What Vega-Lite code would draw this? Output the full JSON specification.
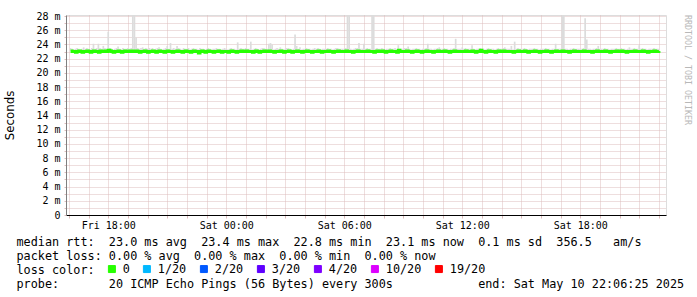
{
"$schema": "https://vega.github.io/schema/vega-lite/v6.json",
"width": 600,
"height": 200,
"autosize": {"type": "none"},
"padding": {"left": 66, "top": 15, "right": 31, "bottom": 82},
"title": {"text": "RRDTOOL / TOBI OETIKER", "orient": "right", "anchor": "start", "angle": 90, "font": "DejaVu Sans Mono", "fontSize": 8.3, "fontWeight": "normal", "color": "#b8b8b8", "offset": 0, "frame": "group"},
"data": {"values": [
{"t":"2025-05-09T16:05","m":23.1,"h":23.5},{"t":"2025-05-09T16:10","m":23.0,"h":23.4},{"t":"2025-05-09T16:15","m":23.0,"h":23.3},{"t":"2025-05-09T16:20","m":22.9,"h":23.4},{"t":"2025-05-09T16:25","m":23.0,"h":23.5},{"t":"2025-05-09T16:30","m":23.1,"h":23.4},{"t":"2025-05-09T16:35","m":23.0,"h":23.3},{"t":"2025-05-09T16:40","m":22.9,"h":23.4},{"t":"2025-05-09T16:45","m":23.0,"h":23.6},{"t":"2025-05-09T16:50","m":23.0,"h":23.4},{"t":"2025-05-09T16:55","m":23.1,"h":23.5},
{"t":"2025-05-09T17:00","m":23.0,"h":23.4},{"t":"2025-05-09T17:05","m":22.9,"h":23.3},{"t":"2025-05-09T17:10","m":23.0,"h":23.5},{"t":"2025-05-09T17:15","m":23.1,"h":24.1},{"t":"2025-05-09T17:20","m":23.0,"h":23.4},{"t":"2025-05-09T17:25","m":23.0,"h":23.5},{"t":"2025-05-09T17:30","m":22.9,"h":24.1},{"t":"2025-05-09T17:35","m":23.1,"h":23.5},{"t":"2025-05-09T17:40","m":23.0,"h":23.4},{"t":"2025-05-09T17:45","m":23.0,"h":23.8},{"t":"2025-05-09T17:50","m":23.1,"h":23.5},{"t":"2025-05-09T17:55","m":23.0,"h":23.4},
{"t":"2025-05-09T18:00","m":23.2,"h":25.8},{"t":"2025-05-09T18:05","m":23.1,"h":23.5},{"t":"2025-05-09T18:10","m":23.0,"h":23.4},{"t":"2025-05-09T18:15","m":22.9,"h":23.3},{"t":"2025-05-09T18:20","m":23.0,"h":23.4},{"t":"2025-05-09T18:25","m":23.0,"h":23.5},{"t":"2025-05-09T18:30","m":23.1,"h":23.7},{"t":"2025-05-09T18:35","m":23.0,"h":23.4},{"t":"2025-05-09T18:40","m":22.9,"h":23.3},{"t":"2025-05-09T18:45","m":23.0,"h":23.5},{"t":"2025-05-09T18:50","m":23.1,"h":23.4},{"t":"2025-05-09T18:55","m":23.0,"h":23.4},
{"t":"2025-05-09T19:00","m":23.0,"h":23.5},{"t":"2025-05-09T19:05","m":23.1,"h":23.4},{"t":"2025-05-09T19:10","m":23.0,"h":23.5},{"t":"2025-05-09T19:15","m":23.1,"h":28.6},{"t":"2025-05-09T19:20","m":23.0,"h":28.6},{"t":"2025-05-09T19:25","m":23.1,"h":25.0},{"t":"2025-05-09T19:30","m":23.0,"h":23.5},{"t":"2025-05-09T19:35","m":22.9,"h":23.4},{"t":"2025-05-09T19:40","m":23.0,"h":23.5},{"t":"2025-05-09T19:45","m":23.0,"h":23.6},{"t":"2025-05-09T19:50","m":23.1,"h":23.4},{"t":"2025-05-09T19:55","m":23.0,"h":23.5},
{"t":"2025-05-09T20:00","m":22.9,"h":23.4},{"t":"2025-05-09T20:05","m":23.0,"h":23.5},{"t":"2025-05-09T20:10","m":23.0,"h":23.4},{"t":"2025-05-09T20:15","m":23.1,"h":23.5},{"t":"2025-05-09T20:20","m":23.0,"h":23.3},{"t":"2025-05-09T20:25","m":22.9,"h":23.4},{"t":"2025-05-09T20:30","m":23.0,"h":23.5},{"t":"2025-05-09T20:35","m":23.1,"h":23.6},{"t":"2025-05-09T20:40","m":23.0,"h":23.4},{"t":"2025-05-09T20:45","m":23.0,"h":23.3},{"t":"2025-05-09T20:50","m":22.9,"h":23.4},{"t":"2025-05-09T20:55","m":23.0,"h":23.5},
{"t":"2025-05-09T21:00","m":23.1,"h":23.8},{"t":"2025-05-09T21:05","m":23.0,"h":23.4},{"t":"2025-05-09T21:10","m":23.0,"h":24.2},{"t":"2025-05-09T21:15","m":22.9,"h":23.4},{"t":"2025-05-09T21:20","m":23.0,"h":23.5},{"t":"2025-05-09T21:25","m":23.0,"h":23.4},{"t":"2025-05-09T21:30","m":23.1,"h":23.8},{"t":"2025-05-09T21:35","m":23.0,"h":23.5},{"t":"2025-05-09T21:40","m":23.0,"h":23.4},{"t":"2025-05-09T21:45","m":22.9,"h":23.3},{"t":"2025-05-09T21:50","m":23.0,"h":23.5},{"t":"2025-05-09T21:55","m":23.1,"h":23.4},
{"t":"2025-05-09T22:00","m":23.0,"h":23.4},{"t":"2025-05-09T22:05","m":23.0,"h":23.5},{"t":"2025-05-09T22:10","m":22.9,"h":23.3},{"t":"2025-05-09T22:15","m":23.0,"h":23.4},{"t":"2025-05-09T22:20","m":23.1,"h":23.5},{"t":"2025-05-09T22:25","m":23.0,"h":23.4},{"t":"2025-05-09T22:30","m":23.0,"h":23.4},{"t":"2025-05-09T22:35","m":22.8,"h":23.3},{"t":"2025-05-09T22:40","m":23.0,"h":23.5},{"t":"2025-05-09T22:45","m":23.1,"h":23.4},{"t":"2025-05-09T22:50","m":23.0,"h":23.4},{"t":"2025-05-09T22:55","m":22.9,"h":23.3},
{"t":"2025-05-09T23:00","m":23.0,"h":23.4},{"t":"2025-05-09T23:05","m":23.1,"h":23.5},{"t":"2025-05-09T23:10","m":23.0,"h":23.4},{"t":"2025-05-09T23:15","m":23.0,"h":23.3},{"t":"2025-05-09T23:20","m":22.9,"h":23.4},{"t":"2025-05-09T23:25","m":23.0,"h":23.4},{"t":"2025-05-09T23:30","m":23.0,"h":23.5},{"t":"2025-05-09T23:35","m":23.1,"h":23.4},{"t":"2025-05-09T23:40","m":23.0,"h":23.4},{"t":"2025-05-09T23:45","m":22.9,"h":23.3},{"t":"2025-05-09T23:50","m":23.0,"h":23.4},{"t":"2025-05-09T23:55","m":23.0,"h":23.5},
{"t":"2025-05-10T00:00","m":23.0,"h":23.4},{"t":"2025-05-10T00:05","m":22.9,"h":23.3},{"t":"2025-05-10T00:10","m":23.0,"h":23.4},{"t":"2025-05-10T00:15","m":23.1,"h":23.5},{"t":"2025-05-10T00:20","m":23.0,"h":23.4},{"t":"2025-05-10T00:25","m":23.0,"h":23.4},{"t":"2025-05-10T00:30","m":22.9,"h":23.3},{"t":"2025-05-10T00:35","m":23.0,"h":24.3},{"t":"2025-05-10T00:40","m":23.0,"h":23.4},{"t":"2025-05-10T00:45","m":23.1,"h":23.5},{"t":"2025-05-10T00:50","m":23.0,"h":23.4},{"t":"2025-05-10T00:55","m":23.0,"h":23.4},
{"t":"2025-05-10T01:00","m":23.1,"h":23.5},{"t":"2025-05-10T01:05","m":23.0,"h":23.4},{"t":"2025-05-10T01:10","m":23.0,"h":23.4},{"t":"2025-05-10T01:15","m":23.0,"h":24.4},{"t":"2025-05-10T01:20","m":22.9,"h":23.3},{"t":"2025-05-10T01:25","m":23.0,"h":23.4},{"t":"2025-05-10T01:30","m":23.1,"h":23.5},{"t":"2025-05-10T01:35","m":23.0,"h":23.4},{"t":"2025-05-10T01:40","m":22.9,"h":23.3},{"t":"2025-05-10T01:45","m":23.0,"h":23.4},{"t":"2025-05-10T01:50","m":23.0,"h":23.5},{"t":"2025-05-10T01:55","m":23.1,"h":23.5},
{"t":"2025-05-10T02:00","m":23.0,"h":23.4},{"t":"2025-05-10T02:05","m":23.0,"h":23.4},{"t":"2025-05-10T02:10","m":23.1,"h":24.1},{"t":"2025-05-10T02:15","m":23.0,"h":24.2},{"t":"2025-05-10T02:20","m":23.0,"h":24.0},{"t":"2025-05-10T02:25","m":22.9,"h":23.3},{"t":"2025-05-10T02:30","m":23.0,"h":23.4},{"t":"2025-05-10T02:35","m":23.0,"h":23.5},{"t":"2025-05-10T02:40","m":23.0,"h":23.4},{"t":"2025-05-10T02:45","m":23.1,"h":23.6},{"t":"2025-05-10T02:50","m":23.0,"h":23.4},{"t":"2025-05-10T02:55","m":22.9,"h":23.3},
{"t":"2025-05-10T03:00","m":23.0,"h":23.4},{"t":"2025-05-10T03:05","m":23.0,"h":23.5},{"t":"2025-05-10T03:10","m":23.1,"h":23.5},{"t":"2025-05-10T03:15","m":23.0,"h":23.4},{"t":"2025-05-10T03:20","m":22.9,"h":23.3},{"t":"2025-05-10T03:25","m":23.0,"h":23.4},{"t":"2025-05-10T03:30","m":23.0,"h":25.4},{"t":"2025-05-10T03:35","m":23.1,"h":23.8},{"t":"2025-05-10T03:40","m":23.0,"h":23.4},{"t":"2025-05-10T03:45","m":23.0,"h":23.6},{"t":"2025-05-10T03:50","m":22.9,"h":23.3},{"t":"2025-05-10T03:55","m":23.0,"h":23.4},
{"t":"2025-05-10T04:00","m":23.0,"h":23.4},{"t":"2025-05-10T04:05","m":23.1,"h":23.5},{"t":"2025-05-10T04:10","m":23.0,"h":23.4},{"t":"2025-05-10T04:15","m":23.0,"h":23.4},{"t":"2025-05-10T04:20","m":22.9,"h":23.3},{"t":"2025-05-10T04:25","m":23.0,"h":23.4},{"t":"2025-05-10T04:30","m":23.0,"h":23.5},{"t":"2025-05-10T04:35","m":23.0,"h":23.4},{"t":"2025-05-10T04:40","m":23.1,"h":23.5},{"t":"2025-05-10T04:45","m":23.0,"h":23.4},{"t":"2025-05-10T04:50","m":22.9,"h":23.3},{"t":"2025-05-10T04:55","m":23.0,"h":23.4},
{"t":"2025-05-10T05:00","m":23.0,"h":23.4},{"t":"2025-05-10T05:05","m":23.0,"h":23.4},{"t":"2025-05-10T05:10","m":23.1,"h":23.5},{"t":"2025-05-10T05:15","m":23.0,"h":23.4},{"t":"2025-05-10T05:20","m":23.0,"h":23.4},{"t":"2025-05-10T05:25","m":22.9,"h":23.3},{"t":"2025-05-10T05:30","m":23.0,"h":23.4},{"t":"2025-05-10T05:35","m":23.0,"h":23.5},{"t":"2025-05-10T05:40","m":23.1,"h":23.5},{"t":"2025-05-10T05:45","m":23.0,"h":23.4},{"t":"2025-05-10T05:50","m":23.0,"h":23.4},{"t":"2025-05-10T05:55","m":23.0,"h":23.4},
{"t":"2025-05-10T06:00","m":23.0,"h":23.4},{"t":"2025-05-10T06:05","m":23.1,"h":23.5},{"t":"2025-05-10T06:10","m":23.0,"h":28.6},{"t":"2025-05-10T06:15","m":23.0,"h":28.6},{"t":"2025-05-10T06:20","m":23.0,"h":23.4},{"t":"2025-05-10T06:25","m":22.9,"h":23.3},{"t":"2025-05-10T06:30","m":23.0,"h":23.4},{"t":"2025-05-10T06:35","m":23.0,"h":23.5},{"t":"2025-05-10T06:40","m":23.1,"h":23.5},{"t":"2025-05-10T06:45","m":23.0,"h":24.2},{"t":"2025-05-10T06:50","m":23.0,"h":23.4},{"t":"2025-05-10T06:55","m":23.0,"h":23.4},
{"t":"2025-05-10T07:00","m":23.0,"h":24.1},{"t":"2025-05-10T07:05","m":23.0,"h":23.4},{"t":"2025-05-10T07:10","m":23.1,"h":23.5},{"t":"2025-05-10T07:15","m":23.0,"h":23.4},{"t":"2025-05-10T07:20","m":23.0,"h":23.4},{"t":"2025-05-10T07:25","m":23.0,"h":28.6},{"t":"2025-05-10T07:30","m":22.9,"h":28.6},{"t":"2025-05-10T07:35","m":23.0,"h":23.4},{"t":"2025-05-10T07:40","m":23.1,"h":23.5},{"t":"2025-05-10T07:45","m":23.0,"h":23.4},{"t":"2025-05-10T07:50","m":23.0,"h":23.4},{"t":"2025-05-10T07:55","m":23.1,"h":23.5},
{"t":"2025-05-10T08:00","m":23.0,"h":23.4},{"t":"2025-05-10T08:05","m":22.9,"h":23.3},{"t":"2025-05-10T08:10","m":23.0,"h":23.4},{"t":"2025-05-10T08:15","m":23.0,"h":23.4},{"t":"2025-05-10T08:20","m":23.1,"h":23.5},{"t":"2025-05-10T08:25","m":23.0,"h":23.4},{"t":"2025-05-10T08:30","m":23.0,"h":23.4},{"t":"2025-05-10T08:35","m":23.0,"h":23.5},{"t":"2025-05-10T08:40","m":22.9,"h":23.3},{"t":"2025-05-10T08:45","m":23.2,"h":23.9},{"t":"2025-05-10T08:50","m":23.0,"h":23.4},{"t":"2025-05-10T08:55","m":23.0,"h":23.4},
{"t":"2025-05-10T09:00","m":23.0,"h":23.4},{"t":"2025-05-10T09:05","m":23.0,"h":23.5},{"t":"2025-05-10T09:10","m":23.1,"h":23.5},{"t":"2025-05-10T09:15","m":23.0,"h":23.7},{"t":"2025-05-10T09:20","m":23.0,"h":23.4},{"t":"2025-05-10T09:25","m":22.9,"h":23.3},{"t":"2025-05-10T09:30","m":23.0,"h":23.4},{"t":"2025-05-10T09:35","m":23.0,"h":23.4},{"t":"2025-05-10T09:40","m":23.1,"h":23.5},{"t":"2025-05-10T09:45","m":23.0,"h":23.4},{"t":"2025-05-10T09:50","m":23.0,"h":23.4},{"t":"2025-05-10T09:55","m":22.9,"h":23.3},
{"t":"2025-05-10T10:00","m":23.0,"h":23.4},{"t":"2025-05-10T10:05","m":23.0,"h":23.4},{"t":"2025-05-10T10:10","m":23.1,"h":23.5},{"t":"2025-05-10T10:15","m":23.0,"h":24.1},{"t":"2025-05-10T10:20","m":23.0,"h":23.4},{"t":"2025-05-10T10:25","m":23.0,"h":23.4},{"t":"2025-05-10T10:30","m":22.9,"h":23.3},{"t":"2025-05-10T10:35","m":23.0,"h":23.4},{"t":"2025-05-10T10:40","m":23.0,"h":23.4},{"t":"2025-05-10T10:45","m":23.1,"h":23.5},{"t":"2025-05-10T10:50","m":23.0,"h":23.6},{"t":"2025-05-10T10:55","m":23.0,"h":23.4},
{"t":"2025-05-10T11:00","m":23.0,"h":23.4},{"t":"2025-05-10T11:05","m":23.1,"h":23.5},{"t":"2025-05-10T11:10","m":23.0,"h":23.4},{"t":"2025-05-10T11:15","m":23.0,"h":23.4},{"t":"2025-05-10T11:20","m":22.9,"h":23.3},{"t":"2025-05-10T11:25","m":23.0,"h":23.4},{"t":"2025-05-10T11:30","m":23.0,"h":23.4},{"t":"2025-05-10T11:35","m":23.1,"h":23.5},{"t":"2025-05-10T11:40","m":23.0,"h":24.8},{"t":"2025-05-10T11:45","m":23.0,"h":23.4},{"t":"2025-05-10T11:50","m":23.0,"h":23.4},{"t":"2025-05-10T11:55","m":23.0,"h":23.4},
{"t":"2025-05-10T12:00","m":23.0,"h":23.6},{"t":"2025-05-10T12:05","m":23.0,"h":23.4},{"t":"2025-05-10T12:10","m":23.1,"h":23.5},{"t":"2025-05-10T12:15","m":23.0,"h":23.4},{"t":"2025-05-10T12:20","m":23.0,"h":23.4},{"t":"2025-05-10T12:25","m":23.0,"h":23.4},{"t":"2025-05-10T12:30","m":23.1,"h":23.9},{"t":"2025-05-10T12:35","m":23.0,"h":23.4},{"t":"2025-05-10T12:40","m":22.9,"h":23.3},{"t":"2025-05-10T12:45","m":23.0,"h":23.4},{"t":"2025-05-10T12:50","m":23.0,"h":23.4},{"t":"2025-05-10T12:55","m":23.2,"h":23.5},
{"t":"2025-05-10T13:00","m":23.0,"h":23.4},{"t":"2025-05-10T13:05","m":23.0,"h":23.4},{"t":"2025-05-10T13:10","m":22.9,"h":23.3},{"t":"2025-05-10T13:15","m":23.0,"h":23.4},{"t":"2025-05-10T13:20","m":23.1,"h":23.5},{"t":"2025-05-10T13:25","m":23.0,"h":23.4},{"t":"2025-05-10T13:30","m":23.0,"h":23.4},{"t":"2025-05-10T13:35","m":23.0,"h":23.4},{"t":"2025-05-10T13:40","m":22.9,"h":23.3},{"t":"2025-05-10T13:45","m":23.0,"h":23.4},{"t":"2025-05-10T13:50","m":23.1,"h":23.5},{"t":"2025-05-10T13:55","m":23.0,"h":23.4},
{"t":"2025-05-10T14:00","m":23.0,"h":23.4},{"t":"2025-05-10T14:05","m":23.1,"h":23.5},{"t":"2025-05-10T14:10","m":23.0,"h":23.6},{"t":"2025-05-10T14:15","m":23.0,"h":23.4},{"t":"2025-05-10T14:20","m":23.0,"h":23.4},{"t":"2025-05-10T14:25","m":23.0,"h":23.4},{"t":"2025-05-10T14:30","m":23.0,"h":23.8},{"t":"2025-05-10T14:35","m":22.9,"h":23.3},{"t":"2025-05-10T14:40","m":23.0,"h":24.4},{"t":"2025-05-10T14:45","m":23.0,"h":23.4},{"t":"2025-05-10T14:50","m":23.1,"h":23.5},{"t":"2025-05-10T14:55","m":23.0,"h":23.4},
{"t":"2025-05-10T15:00","m":23.0,"h":23.4},{"t":"2025-05-10T15:05","m":23.0,"h":23.4},{"t":"2025-05-10T15:10","m":23.1,"h":23.5},{"t":"2025-05-10T15:15","m":23.0,"h":23.4},{"t":"2025-05-10T15:20","m":22.9,"h":23.3},{"t":"2025-05-10T15:25","m":23.0,"h":23.4},{"t":"2025-05-10T15:30","m":23.0,"h":23.4},{"t":"2025-05-10T15:35","m":23.0,"h":23.4},{"t":"2025-05-10T15:40","m":23.1,"h":23.5},{"t":"2025-05-10T15:45","m":23.0,"h":23.4},{"t":"2025-05-10T15:50","m":23.0,"h":23.4},{"t":"2025-05-10T15:55","m":22.9,"h":23.3},
{"t":"2025-05-10T16:00","m":23.0,"h":23.4},{"t":"2025-05-10T16:05","m":23.0,"h":23.4},{"t":"2025-05-10T16:10","m":23.0,"h":23.4},{"t":"2025-05-10T16:15","m":23.1,"h":23.5},{"t":"2025-05-10T16:20","m":23.0,"h":23.4},{"t":"2025-05-10T16:25","m":23.0,"h":23.4},{"t":"2025-05-10T16:30","m":22.9,"h":23.3},{"t":"2025-05-10T16:35","m":23.0,"h":23.4},{"t":"2025-05-10T16:40","m":23.0,"h":23.4},{"t":"2025-05-10T16:45","m":23.1,"h":24.1},{"t":"2025-05-10T16:50","m":23.0,"h":23.4},{"t":"2025-05-10T16:55","m":23.0,"h":23.4},
{"t":"2025-05-10T17:00","m":23.0,"h":23.4},{"t":"2025-05-10T17:05","m":23.1,"h":28.6},{"t":"2025-05-10T17:10","m":23.0,"h":28.6},{"t":"2025-05-10T17:15","m":23.0,"h":23.4},{"t":"2025-05-10T17:20","m":23.0,"h":23.4},{"t":"2025-05-10T17:25","m":22.9,"h":23.3},{"t":"2025-05-10T17:30","m":23.0,"h":23.4},{"t":"2025-05-10T17:35","m":23.0,"h":23.4},{"t":"2025-05-10T17:40","m":23.1,"h":23.5},{"t":"2025-05-10T17:45","m":23.0,"h":23.4},{"t":"2025-05-10T17:50","m":23.0,"h":23.4},{"t":"2025-05-10T17:55","m":23.0,"h":23.4},
{"t":"2025-05-10T18:00","m":23.0,"h":23.4},{"t":"2025-05-10T18:05","m":23.0,"h":23.4},{"t":"2025-05-10T18:10","m":23.1,"h":23.5},{"t":"2025-05-10T18:15","m":23.0,"h":27.7},{"t":"2025-05-10T18:20","m":23.0,"h":24.7},{"t":"2025-05-10T18:25","m":23.0,"h":23.4},{"t":"2025-05-10T18:30","m":23.0,"h":23.4},{"t":"2025-05-10T18:35","m":22.9,"h":23.3},{"t":"2025-05-10T18:40","m":23.0,"h":23.4},{"t":"2025-05-10T18:45","m":23.0,"h":23.4},{"t":"2025-05-10T18:50","m":23.1,"h":23.5},{"t":"2025-05-10T18:55","m":23.0,"h":23.8},
{"t":"2025-05-10T19:00","m":23.0,"h":23.4},{"t":"2025-05-10T19:05","m":23.0,"h":23.4},{"t":"2025-05-10T19:10","m":23.0,"h":23.4},{"t":"2025-05-10T19:15","m":23.1,"h":23.5},{"t":"2025-05-10T19:20","m":23.0,"h":23.4},{"t":"2025-05-10T19:25","m":23.0,"h":23.4},{"t":"2025-05-10T19:30","m":22.9,"h":23.3},{"t":"2025-05-10T19:35","m":23.0,"h":23.4},{"t":"2025-05-10T19:40","m":23.0,"h":23.4},{"t":"2025-05-10T19:45","m":23.0,"h":23.4},{"t":"2025-05-10T19:50","m":23.1,"h":23.5},{"t":"2025-05-10T19:55","m":23.0,"h":23.4},
{"t":"2025-05-10T20:00","m":23.0,"h":23.4},{"t":"2025-05-10T20:05","m":23.1,"h":23.5},{"t":"2025-05-10T20:10","m":23.0,"h":23.4},{"t":"2025-05-10T20:15","m":23.0,"h":23.4},{"t":"2025-05-10T20:20","m":22.9,"h":23.3},{"t":"2025-05-10T20:25","m":23.0,"h":23.4},{"t":"2025-05-10T20:30","m":23.0,"h":23.6},{"t":"2025-05-10T20:35","m":23.0,"h":23.4},{"t":"2025-05-10T20:40","m":23.0,"h":23.4},{"t":"2025-05-10T20:45","m":23.1,"h":23.5},{"t":"2025-05-10T20:50","m":23.0,"h":23.4},{"t":"2025-05-10T20:55","m":23.0,"h":23.4},
{"t":"2025-05-10T21:00","m":23.0,"h":23.9},{"t":"2025-05-10T21:05","m":23.0,"h":23.4},{"t":"2025-05-10T21:10","m":23.1,"h":23.5},{"t":"2025-05-10T21:15","m":23.0,"h":23.4},{"t":"2025-05-10T21:20","m":23.0,"h":23.4},{"t":"2025-05-10T21:25","m":22.9,"h":23.3},{"t":"2025-05-10T21:30","m":23.0,"h":23.4},{"t":"2025-05-10T21:35","m":23.0,"h":23.4},{"t":"2025-05-10T21:40","m":23.0,"h":23.4},{"t":"2025-05-10T21:45","m":23.1,"h":23.5},{"t":"2025-05-10T21:50","m":23.0,"h":23.4},{"t":"2025-05-10T21:55","m":23.0,"h":23.4},
{"t":"2025-05-10T22:00","m":23.1,"h":23.4}
]},
"layer": [
{
"mark": {"type": "bar", "color": "#dcdcdc", "clip": true, "width": 1.7},
"encoding": {
"x": {"field": "t", "type": "temporal",
"scale": {"domain": [{"year": 2025, "month": 5, "date": 9, "hours": 16, "minutes": 6, "seconds": 25}, {"year": 2025, "month": 5, "date": 10, "hours": 22, "minutes": 6, "seconds": 25}]},
"axis": {
"tickCount": 30,
"grid": true,
"gridColor": "#dcbcbc",
"gridDash": [1, 1],
"domainColor": "#000000",
"tickColor": "#dcbcbc",
"tickSize": 3,
"labelExpr": "hours(datum.value) % 6 === 0 ? timeFormat(datum.value, '%a %H:%M') : ''",
"labelFont": "DejaVu Sans Mono", "labelFontSize": 10, "labelColor": "#000000",
"labelPadding": 2, "labelFlush": false, "labelOverlap": false,
"title": ["median rtt:\u00a0\u00a023.0 ms avg\u00a0\u00a023.4 ms max\u00a0\u00a022.8 ms min\u00a0\u00a023.1 ms now\u00a0\u00a00.1 ms sd\u00a0\u00a0356.5\u00a0\u00a0\u00a0am/s",
"packet loss:\u00a00.00 % avg\u00a0\u00a00.00 % max\u00a0\u00a00.00 % min\u00a0\u00a00.00 % now",
"loss color:",
"probe:\u00a0\u00a0\u00a0\u00a0\u00a0\u00a0\u00a020 ICMP Echo Pings (56 Bytes) every 300s\u00a0\u00a0\u00a0\u00a0\u00a0\u00a0\u00a0\u00a0\u00a0\u00a0\u00a0\u00a0end: Sat May 10 22:06:25 2025"],
"titleFont": "DejaVu Sans Mono", "titleFontSize": 11.8, "titleFontWeight": "normal", "titleColor": "#000000",
"titleAlign": "left", "titleBaseline": "alphabetic", "titleAnchor": "start",
"titleX": -50, "titleY": 30.5, "titleLineHeight": 13.9
}},
"y": {"field": "h", "type": "quantitative",
"scale": {"domain": [0, 28.15], "nice": false, "zero": true},
"axis": {
"tickCount": 28,
"grid": true,
"gridColor": "#dcbcbc",
"gridDash": [1, 1],
"domainColor": "#7f7f7f",
"tickSize": 2,
"tickColor": "#dcbcbc",
"labelExpr": "datum.value % 2 !== 0 ? '' : (datum.value === 0 ? '0' : datum.value + ' m')",
"labelFont": "DejaVu Sans Mono", "labelFontSize": 10, "labelColor": "#000000", "labelPadding": 4,
"labelOverlap": false, "labelFlush": false,
"title": "Seconds", "titleFont": "DejaVu Sans", "titleFontSize": 11.8, "titleFontWeight": "normal", "titleColor": "#000000",
"titleAngle": 270, "titleX": -51, "titleY": 100
}},
"y2": {"field": "m"}
}
},
{
"mark": {"type": "line", "strokeWidth": 3, "interpolate": "step-after", "clip": true},
"encoding": {
"x": {"field": "t", "type": "temporal"},
"y": {"field": "m", "type": "quantitative",
"axis": {
"tickCount": 28,
"grid": true,
"gridColor": "#dcbcbc",
"gridDash": [1, 1],
"domainColor": "#7f7f7f",
"tickSize": 2,
"tickColor": "#dcbcbc",
"labelExpr": "datum.value % 2 !== 0 ? '' : (datum.value === 0 ? '0' : datum.value + ' m')",
"labelFont": "DejaVu Sans Mono", "labelFontSize": 10, "labelColor": "#000000", "labelPadding": 4,
"labelOverlap": false, "labelFlush": false,
"title": "Seconds", "titleFont": "DejaVu Sans", "titleFontSize": 11.8, "titleFontWeight": "normal", "titleColor": "#000000",
"titleAngle": 270, "titleX": -51, "titleY": 100
}},
"color": {"datum": "0", "type": "nominal",
"scale": {"domain": ["0", "1/20", "2/20", "3/20", "4/20", "10/20", "19/20"], "range": ["#26ff00", "#00b8ff", "#0059ff", "#5e00ff", "#7e00ff", "#dd00ff", "#ff0000"]},
"legend": {"orient": "none", "legendX": 40, "legendY": 248, "direction": "horizontal", "columns": 7, "title": null,
"symbolType": "square", "symbolSize": 49, "symbolStrokeColor": "#000000", "symbolStrokeWidth": 1, "symbolOpacity": 1,
"labelFont": "DejaVu Sans Mono", "labelFontSize": 11.8, "labelColor": "#000000", "labelOffset": 5, "columnPadding": 11,
"encode": {"symbols": {"update": {"fill": {"scale": "color", "field": "value"}, "stroke": {"value": "#000000"}, "fillOpacity": {"value": 1}}}}}
}
}
}
]
}
